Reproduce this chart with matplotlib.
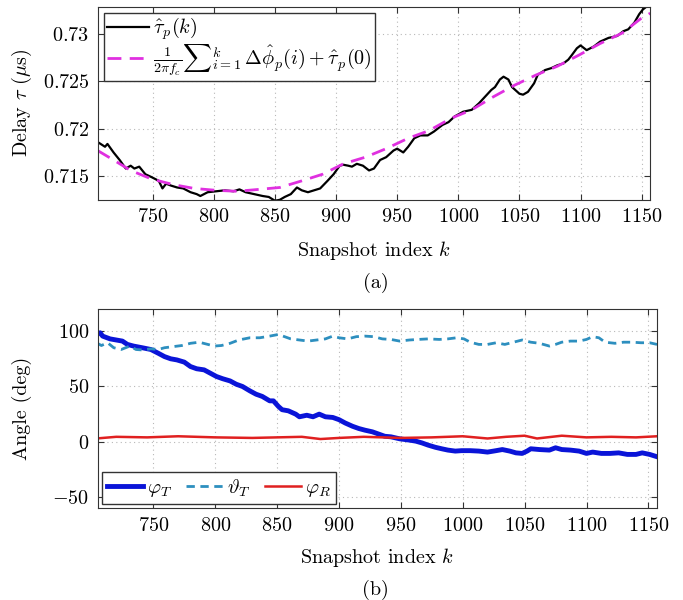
import numpy as np
import matplotlib
matplotlib.use("Agg")
import matplotlib.pyplot as plt
from matplotlib.ticker import FuncFormatter

# Fonts: LaTeX look
plt.rcParams["font.family"] = "cmr10"
plt.rcParams["mathtext.fontset"] = "cm"
plt.rcParams["axes.formatter.use_mathtext"] = True
plt.rcParams["font.size"] = 14.5

# (a) delay estimate and phase-based prediction
k_tau = [705, 711, 713, 718, 723, 728, 732, 735, 739, 744, 749, 755, 758, 761, 765,
         770, 775, 781, 786, 789, 795, 802, 809, 816, 821, 826, 833, 840, 845, 850,
         854, 858, 863, 868, 872, 877, 882, 887, 893, 898, 903, 906, 910, 913, 917,
         922, 927, 931, 936, 941, 947, 950, 955, 959, 964, 969, 975, 980, 987, 992,
         997, 1004, 1011, 1017, 1022, 1027, 1030, 1034, 1037, 1041, 1044, 1050, 1053,
         1057, 1062, 1065, 1071, 1076, 1081, 1086, 1090, 1093, 1097, 1100, 1105, 1111,
         1116, 1123, 1130, 1135, 1139, 1144, 1148, 1151, 1157]
tau_hat = [0.7186, 0.7181, 0.7184, 0.7175, 0.7167, 0.7158, 0.7161, 0.7158, 0.7160,
           0.7152, 0.7149, 0.7145, 0.7137, 0.7142, 0.7140, 0.7138, 0.7137, 0.7133,
           0.7131, 0.7129, 0.7133, 0.7134, 0.7135, 0.7134, 0.7136, 0.7133, 0.7131,
           0.7129, 0.7128, 0.7124, 0.7125, 0.7128, 0.7131, 0.7138, 0.7135, 0.7133,
           0.7135, 0.7137, 0.7145, 0.7152, 0.7161, 0.7162, 0.7161, 0.7160, 0.7163,
           0.7161, 0.7156, 0.7158, 0.7167, 0.7170, 0.7177, 0.7179, 0.7175, 0.7181,
           0.7190, 0.7193, 0.7193, 0.7197, 0.7204, 0.7207, 0.7213, 0.7218, 0.7220,
           0.7227, 0.7234, 0.7241, 0.7244, 0.7252, 0.7255, 0.7252, 0.7244, 0.7237,
           0.7236, 0.7239, 0.7248, 0.7257, 0.7262, 0.7264, 0.7267, 0.7269, 0.7273,
           0.7278, 0.7285, 0.7288, 0.7283, 0.7287, 0.7292, 0.7296, 0.7298, 0.7303,
           0.7305, 0.7312, 0.7321, 0.7326, 0.7332]

k_pred = [705, 718, 732, 749, 767, 784, 802, 819, 837, 854, 872, 889, 906, 924, 941,
          959, 976, 994, 1011, 1029, 1046, 1064, 1081, 1099, 1116, 1134, 1149, 1157]
tau_pred = [0.7177, 0.7167, 0.7156, 0.7147, 0.7141, 0.7137, 0.7135, 0.7134, 0.7136,
            0.7138, 0.7145, 0.7152, 0.7163, 0.7170, 0.7179, 0.7190, 0.7198, 0.7211,
            0.7220, 0.7234, 0.7246, 0.7257, 0.7266, 0.7278, 0.7290, 0.7301, 0.7316,
            0.7322]

# (b) angles
k_phiT = [704, 707, 709, 715, 720, 725, 729, 734, 741, 748, 754, 759, 764, 769, 775,
          780, 785, 791, 796, 801, 806, 812, 817, 822, 828, 833, 838, 844, 847, 851,
          854, 859, 865, 868, 874, 879, 884, 889, 895, 900, 905, 911, 916, 921, 927,
          932, 937, 942, 949, 957, 962, 967, 972, 978, 983, 988, 994, 999, 1006, 1013,
          1020, 1027, 1032, 1038, 1043, 1048, 1052, 1055, 1062, 1070, 1075, 1080, 1087,
          1094, 1100, 1105, 1112, 1119, 1126, 1133, 1140, 1145, 1151, 1157]
phiT = [97, 98.5, 95.5, 93, 92, 91, 88, 86.5, 85, 83.4, 80, 77, 75, 74, 72, 68, 66,
        65, 62, 59, 57, 55, 52, 50, 46, 43, 41, 37, 37, 32, 29, 28, 25, 22.6, 24, 22.6,
        25, 22.6, 22, 20, 17, 14, 12, 10.5, 9, 7, 5, 4.5, 2.7, 1.5, 0.6, -1, -3, -5,
        -6.3, -7.5, -8.4, -8, -8, -8.4, -9.3, -8, -7, -8.4, -10, -10.5, -8.4, -6.3, -7,
        -7.5, -5.4, -7, -7.5, -8.4, -10.5, -9.3, -10.5, -10.5, -10, -11.4, -11.4, -10,
        -11.4, -13.5]

k_thetaT = [704, 708, 713, 718, 724, 731, 736, 741, 748, 754, 759, 766, 773, 780, 787,
            794, 799, 805, 812, 819, 828, 836, 844, 851, 856, 861, 868, 875, 882, 889,
            895, 900, 907, 914, 921, 928, 935, 942, 949, 957, 964, 972, 981, 988, 995,
            1001, 1006, 1013, 1020, 1027, 1034, 1041, 1048, 1055, 1062, 1070, 1075, 1080,
            1087, 1094, 1100, 1105, 1110, 1115, 1123, 1130, 1137, 1144, 1151, 1157]
thetaT = [89.5, 87, 89.5, 85, 83.4, 86.5, 83.4, 83, 84, 83.4, 85, 86, 87, 89, 90, 88,
          86.5, 87, 89, 92, 94, 94, 95.5, 97, 95, 93, 92, 91, 92, 93, 95.5, 94, 93, 95,
          95.5, 95, 93, 92.5, 91, 92, 92.5, 93, 92.5, 93, 94, 93, 90, 88, 88, 89.5, 88,
          90, 92, 90, 89, 86.5, 88, 90, 91, 91, 92.5, 95, 94, 90, 89, 90, 90, 89.5,
          89.5, 88]

k_phiR = [704, 720, 745, 770, 800, 830, 850, 870, 885, 900, 920, 950, 975, 1000, 1020,
          1035, 1050, 1060, 1080, 1100, 1120, 1140, 1157]
phiR = [3, 4.5, 4, 5, 4, 3.5, 4, 4.5, 2.5, 3.5, 4.5, 3.5, 4, 5, 3, 4.5, 5.5, 3, 5.5,
        4, 4.5, 4, 5]

xticks = [750, 800, 850, 900, 950, 1000, 1050, 1100, 1150]
tau_ticks = [0.715, 0.72, 0.725, 0.73]
ang_ticks = [-50, 0, 50, 100]

fmt = FuncFormatter(lambda v, p: "$%g$" % v)


def style(ax):
    ax.grid(True, linestyle=(0, (1, 3)), color="#b8b8b8", linewidth=0.8)
    ax.tick_params(direction="in", top=True, right=True, length=4, color="#333333",
                   pad=6)
    for s in ax.spines.values():
        s.set_color("#333333")
        s.set_linewidth(0.8)
    ax.set_xticks(xticks)
    ax.xaxis.set_major_formatter(fmt)
    ax.yaxis.set_major_formatter(fmt)
    ax.set_xlim(705, 1157)


fig = plt.figure(figsize=(6.83, 6.0), dpi=100)
ax1 = fig.add_axes([0.143, 0.667, 0.809, 0.322])
ax2 = fig.add_axes([0.143, 0.153, 0.819, 0.332])

ax1.plot(k_tau, tau_hat, color="black", linewidth=1.6, label=r"$\hat{\tau}_p(k)$")
ax1.plot(k_pred, tau_pred, color="#e030e0", linewidth=2.0, dashes=(5, 3),
         label=r"$\frac{1}{2\pi f_c}\sum{}_{i=1}^{k}\,\Delta\hat{\phi}_p(i)+\hat{\tau}_p(0)$")
ax1.set_ylim(0.7125, 0.7329)
ax1.set_yticks(tau_ticks)
style(ax1)
ax1.set_xlabel("Snapshot index $k$", labelpad=9)
ax1.set_ylabel(r"Delay $\tau$ ($\mu$s)", labelpad=6)
ax1.legend(loc="upper left", fancybox=False, edgecolor="#333333", framealpha=1,
           handlelength=2.1, borderpad=0.15, labelspacing=0.0, borderaxespad=0.3,
           handletextpad=0.2)

ax2.plot(k_phiT, phiT, color="#0a14d8", linewidth=3.5, label=r"$\varphi_T$")
ax2.plot(k_thetaT, thetaT, color="#2d8fbf", linewidth=2.0, dashes=(3, 2),
         label=r"$\vartheta_T$")
ax2.plot(k_phiR, phiR, color="#e02020", linewidth=1.8, label=r"$\varphi_R$")
ax2.set_ylim(-60, 120)
ax2.set_yticks(ang_ticks)
style(ax2)
ax2.set_xlabel("Snapshot index $k$", labelpad=8)
ax2.set_ylabel("Angle (deg)", labelpad=15)
ax2.legend(loc="lower left", ncol=3, fancybox=False, edgecolor="#333333", framealpha=1,
           handlelength=1.8, borderpad=0.25, columnspacing=0.7, borderaxespad=0.2,
           handletextpad=0.2)

fig.text(0.55, 1 - 283 / 600, "(a)", ha="center", va="center")
fig.text(0.55, 1 - 590 / 600, "(b)", ha="center", va="center")

fig.savefig("out.png", dpi=100)
